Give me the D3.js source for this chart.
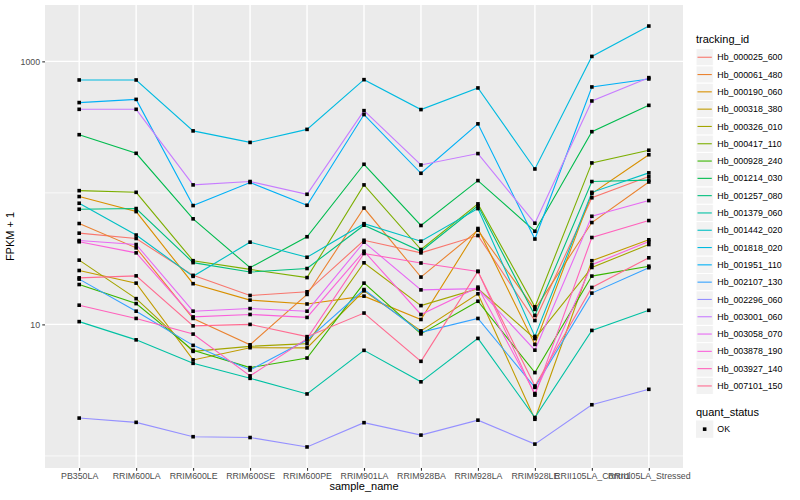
<!DOCTYPE html>
<html>
<head>
<meta charset="utf-8">
<script src="https://cdn.jsdelivr.net/npm/d3@7"></script>
<style>
  body { margin: 0; background: #fff; }
  text { font-family: "Liberation Sans", Arial, Helvetica, sans-serif; }
</style>
</head>
<body>
<script>
let w = 800;
let h = 500;

let samples = ['PB350LA', 'RRIM600LA', 'RRIM600LE', 'RRIM600SE', 'RRIM600PE', 'RRIM901LA',
  'RRIM928BA', 'RRIM928LA', 'RRIM928LE', 'RRII105LA_Control', 'RRII105LA_Stressed'];

let trackingIds = ['Hb_000025_600', 'Hb_000061_480', 'Hb_000190_060', 'Hb_000318_380',
  'Hb_000326_010', 'Hb_000417_110', 'Hb_000928_240', 'Hb_001214_030', 'Hb_001257_080',
  'Hb_001379_060', 'Hb_001442_020', 'Hb_001818_020', 'Hb_001951_110', 'Hb_002107_130',
  'Hb_002296_060', 'Hb_003001_060', 'Hb_003058_070', 'Hb_003878_190', 'Hb_003927_140',
  'Hb_007101_150'];

// FPKM + 1, one value per sample
let hb_000025_600 = [49.4, 45.0, 23.6, 16.6, 17.7, 43.6, 35.0, 47.4, 10.7, 91.8, 133];
let hb_000061_480 = [58.5, 38.2, 11.1, 7.0, 16.9, 76.7, 22.9, 52.0, 13.0, 59.5, 121];
let hb_000190_060 = [93.8, 72.1, 20.4, 15.3, 14.3, 16.4, 10.9, 53.6, 7.05, 98.8, 195];
let hb_000318_380 = [25.7, 20.6, 5.37, 6.65, 6.63, 18.0, 8.93, 17.1, 1.90, 30.5, 44.0];
let hb_000326_010 = [30.8, 15.7, 6.24, 6.81, 7.14, 29.4, 13.9, 18.7, 7.80, 27.1, 40.5];
let hb_000417_110 = [104, 101, 30.5, 26.2, 22.7, 115, 37.1, 82.5, 13.6, 169, 211];
let hb_000928_240 = [20.1, 14.4, 6.35, 4.69, 5.55, 20.6, 8.47, 15.0, 4.30, 23.3, 27.7];
let hb_001214_030 = [277, 200, 63.5, 27.0, 46.4, 165, 56.5, 124, 51.1, 292, 463];
let hb_001257_080 = [75.1, 76.0, 29.5, 25.0, 26.6, 56.8, 36.0, 79.7, 11.7, 122, 125];
let hb_001379_060 = [10.5, 7.63, 5.06, 3.89, 2.96, 6.35, 3.66, 7.83, 1.96, 9.0, 12.8];
let hb_001442_020 = [83.4, 47.8, 23.2, 42.2, 32.4, 58.3, 42.9, 76.0, 8.1, 101, 142];
let hb_001818_020 = [722, 722, 296, 242, 304, 726, 430, 628, 152, 1091, 1856];
let hb_001951_110 = [486, 514, 80.1, 120, 80.5, 394, 141, 335, 44.6, 639, 735];
let hb_002107_130 = [22.1, 12.6, 6.93, 4.50, 7.60, 18.4, 8.70, 11.1, 3.32, 17.3, 27.0];
let hb_002296_060 = [1.94, 1.80, 1.40, 1.38, 1.17, 1.79, 1.44, 1.87, 1.23, 2.45, 3.21];
let hb_003001_060 = [432, 432, 115, 122, 97.6, 422, 163, 199, 58.8, 500, 752];
let hb_003058_070 = [43.4, 40.5, 12.6, 13.2, 12.6, 42.2, 18.3, 18.7, 6.37, 66.4, 87.4];
let hb_003878_190 = [42.5, 35.0, 11.4, 11.9, 11.3, 36.0, 11.9, 19.2, 2.98, 28.4, 42.7];
let hb_003927_140 = [14.0, 11.1, 8.44, 4.06, 7.80, 34.6, 29.3, 25.3, 2.90, 45.8, 61.6];
let hb_007101_150 = [22.6, 23.4, 9.74, 10.0, 8.07, 12.2, 5.24, 25.3, 3.40, 19.1, 32.1];

let yBreaks = [10, 1000];
let yMinor = [1, 100];
let quantStatus = ['OK'];

let colors = ['#F8766D', '#EA8331', '#D89000', '#C09B00', '#A3A500', '#7CAE00', '#39B600',
  '#00BB4E', '#00BF7D', '#00C1A3', '#00BFC4', '#00BAE0', '#00B0F6', '#35A2FF', '#9590FF',
  '#C77CFF', '#E76BF3', '#FA62DB', '#FF62BC', '#FF6C91'];

let seriesValues = [hb_000025_600, hb_000061_480, hb_000190_060, hb_000318_380, hb_000326_010,
  hb_000417_110, hb_000928_240, hb_001214_030, hb_001257_080, hb_001379_060, hb_001442_020,
  hb_001818_020, hb_001951_110, hb_002107_130, hb_002296_060, hb_003001_060, hb_003058_070,
  hb_003878_190, hb_003927_140, hb_007101_150];

let series = trackingIds.map((id, i) => {
  return { id: id, color: colors[i], values: seriesValues[i].map((v, j) => [samples[j], v]) };
});

let panel = { left: 45, right: 683, top: 5, bottom: 468 };

let xScale = d3.scalePoint()
  .domain(samples)
  .range([panel.left, panel.right])
  .padding(0.6);

// log scale, expanded by 5% of the log range like ggplot
let allValues = seriesValues.flat();
let lo = Math.log10(d3.min(allValues));
let hi = Math.log10(d3.max(allValues));
let pad = (hi - lo) * 0.05;

let yScale = d3.scaleLog()
  .domain([Math.pow(10, lo - pad), Math.pow(10, hi + pad)])
  .range([panel.bottom, panel.top]);

let svg = d3.select('body')
  .append('svg')
  .attr('width', w)
  .attr('height', h);

svg.append('rect')
  .attr('x', panel.left)
  .attr('y', panel.top)
  .attr('width', panel.right - panel.left)
  .attr('height', panel.bottom - panel.top)
  .attr('fill', '#EBEBEB');

let grid = svg.append('g');

grid.selectAll('.minor')
  .data(yMinor)
  .enter()
  .append('line')
  .attr('x1', panel.left)
  .attr('x2', panel.right)
  .attr('y1', (d) => { return yScale(d); })
  .attr('y2', (d) => { return yScale(d); })
  .attr('stroke', '#fff')
  .attr('stroke-width', 0.7);

grid.selectAll('.major')
  .data(yBreaks)
  .enter()
  .append('line')
  .attr('x1', panel.left)
  .attr('x2', panel.right)
  .attr('y1', (d) => { return yScale(d); })
  .attr('y2', (d) => { return yScale(d); })
  .attr('stroke', '#fff')
  .attr('stroke-width', 1.4);

grid.selectAll('.xgrid')
  .data(samples)
  .enter()
  .append('line')
  .attr('x1', (d) => { return xScale(d); })
  .attr('x2', (d) => { return xScale(d); })
  .attr('y1', panel.top)
  .attr('y2', panel.bottom)
  .attr('stroke', '#fff')
  .attr('stroke-width', 1.4);

let line = d3.line()
  .x((d) => { return xScale(d[0]); })
  .y((d) => { return yScale(d[1]); });

svg.append('g')
  .selectAll('path')
  .data(series)
  .enter()
  .append('path')
  .attr('d', (d) => { return line(d.values); })
  .attr('fill', 'none')
  .attr('stroke', (d) => { return d.color; })
  .attr('stroke-width', 1.1);

let pts = series.flatMap((s) => { return s.values; });

svg.append('g')
  .selectAll('rect')
  .data(pts)
  .enter()
  .append('rect')
  .attr('x', (d) => { return xScale(d[0]) - 1.8; })
  .attr('y', (d) => { return yScale(d[1]) - 1.8; })
  .attr('width', 3.6)
  .attr('height', 3.6)
  .attr('fill', '#000');

let xAxis = d3.axisBottom(xScale)
  .tickSize(2.75)
  .tickPadding(2.2);

let yAxis = d3.axisLeft(yScale)
  .tickValues(yBreaks)
  .tickFormat(d3.format('d'))
  .tickSize(2.75)
  .tickPadding(2.2);

let gx = svg.append('g')
  .attr('transform', 'translate(0, ' + panel.bottom + ')')
  .call(xAxis);

let gy = svg.append('g')
  .attr('transform', 'translate(' + panel.left + ', 0)')
  .call(yAxis);

[gx, gy].forEach((g) => {
  g.select('.domain').remove();
  g.selectAll('.tick line').attr('stroke', '#333333').attr('stroke-width', 1.1);
  g.selectAll('.tick text')
    .attr('fill', '#4D4D4D')
    .style('font-size', '8.8px')
    .style('font-family', '"Liberation Sans", Arial, sans-serif');
});

svg.append('text')
  .attr('x', (panel.left + panel.right) / 2)
  .attr('y', 490)
  .attr('text-anchor', 'middle')
  .style('font-size', '11px')
  .text('sample_name');

svg.append('text')
  .attr('transform', 'translate(14, ' + ((panel.top + panel.bottom) / 2) + ') rotate(-90)')
  .attr('text-anchor', 'middle')
  .style('font-size', '11px')
  .text('FPKM + 1');

// legend
let keyH = 17.3;
let legend = svg.append('g').attr('transform', 'translate(696, 0)');

legend.append('text')
  .attr('x', 0)
  .attr('y', 43)
  .style('font-size', '11px')
  .text('tracking_id');

let keys = legend.selectAll('.key')
  .data(series)
  .enter()
  .append('g')
  .attr('transform', (d, i) => { return 'translate(0, ' + (48.6 + i * keyH) + ')'; });

keys.append('rect')
  .attr('width', keyH)
  .attr('height', keyH)
  .attr('fill', '#F2F2F2')
  .attr('stroke', '#fff')
  .attr('stroke-width', 1);

keys.append('line')
  .attr('x1', 1.5)
  .attr('x2', keyH - 1.5)
  .attr('y1', keyH / 2)
  .attr('y2', keyH / 2)
  .attr('stroke', (d) => { return d.color; })
  .attr('stroke-width', 1.1);

keys.append('text')
  .attr('x', keyH + 4)
  .attr('y', keyH / 2 + 3.1)
  .style('font-size', '8.8px')
  .text((d) => { return d.id; });

legend.append('text')
  .attr('x', 0)
  .attr('y', 416)
  .style('font-size', '11px')
  .text('quant_status');

let qkeys = legend.selectAll('.qkey')
  .data(quantStatus)
  .enter()
  .append('g')
  .attr('transform', (d, i) => { return 'translate(0, ' + (420.5 + i * keyH) + ')'; });

qkeys.append('rect')
  .attr('width', keyH)
  .attr('height', keyH)
  .attr('fill', '#F2F2F2');

qkeys.append('rect')
  .attr('x', keyH / 2 - 1.8)
  .attr('y', keyH / 2 - 1.8)
  .attr('width', 3.6)
  .attr('height', 3.6)
  .attr('fill', '#000');

qkeys.append('text')
  .attr('x', keyH + 4)
  .attr('y', keyH / 2 + 3.1)
  .style('font-size', '8.8px')
  .text((d) => { return d; });
</script>
</body>
</html>
